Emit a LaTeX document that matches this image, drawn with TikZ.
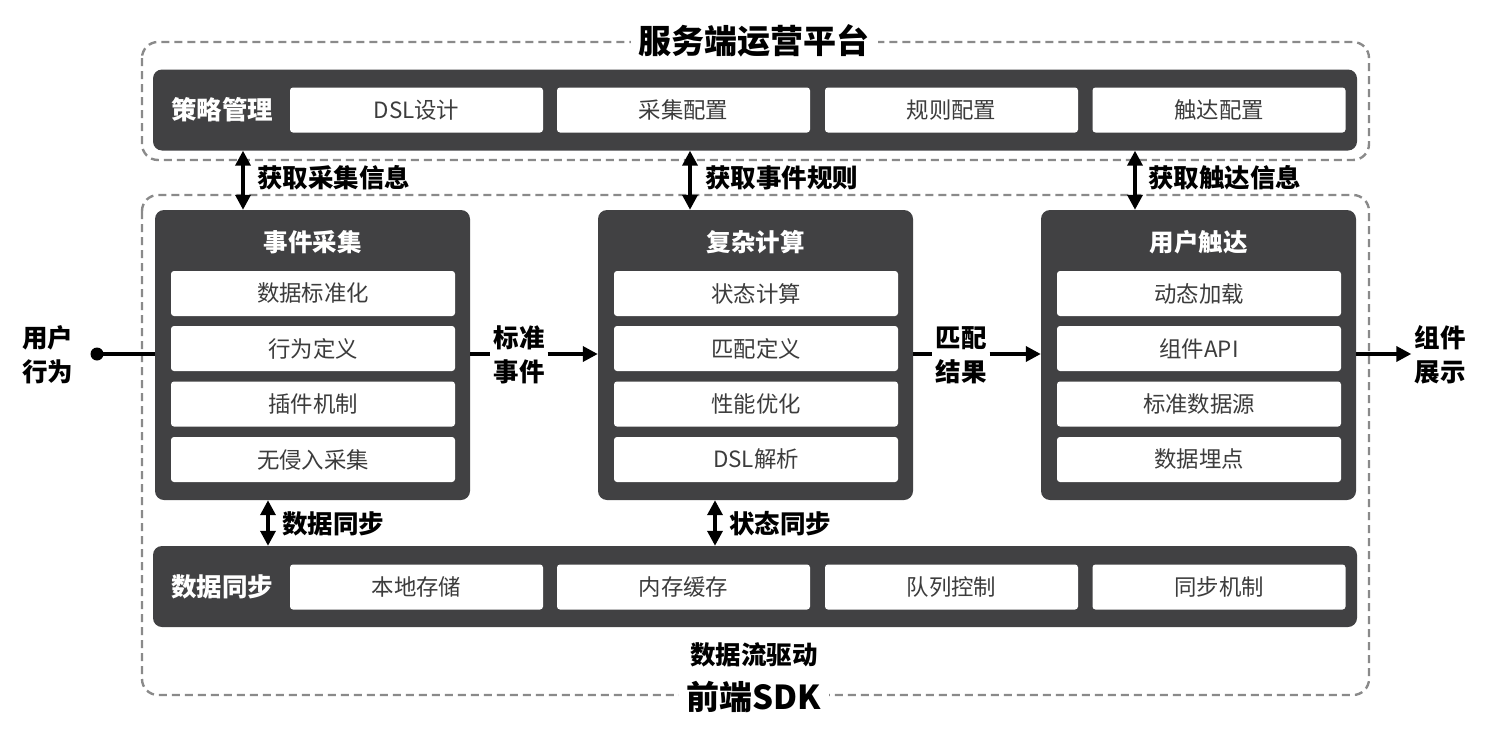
\documentclass[tikz,border=0pt]{standalone}
\usepackage{fontspec}
\setmainfont{Noto Sans CJK SC}
\usetikzlibrary{arrows.meta,calc}
\definecolor{darkbar}{HTML}{414143}
\definecolor{dashgray}{HTML}{8A8A8A}
\definecolor{itemtext}{HTML}{3C3C3C}
\begin{document}
\begin{tikzpicture}[x=1pt,y=-1pt,
  dashbox/.style={draw=dashgray,line width=2.4pt,dash pattern=on 8pt off 5pt,rounded corners=16pt},
  bigtitle/.style={fill=white,inner xsep=8pt,inner ysep=2pt,font=\fontsize{33}{38}\selectfont\bfseries,text=black},
  panel/.style={fill=darkbar,rounded corners=9pt,minimum width=315pt,minimum height=290pt,inner sep=0pt},
  bar/.style={fill=darkbar,rounded corners=9pt,minimum width=1204pt,minimum height=81pt,inner sep=0pt},
  item/.style={fill=white,rounded corners=3pt,minimum width=284pt,minimum height=45pt,inner sep=0pt,text=itemtext,font=\fontsize{22.4}{26}\selectfont},
  baritem/.style={fill=white,rounded corners=3pt,minimum width=253pt,minimum height=45pt,inner sep=0pt,text=itemtext,font=\fontsize{22.4}{26}\selectfont},
  ptitle/.style={text=white,font=\fontsize{24.5}{28}\selectfont\bfseries},
  bartitle/.style={text=white,font=\fontsize{25.5}{29}\selectfont\bfseries},
  lbl/.style={text=black,font=\fontsize{25.5}{29}\selectfont\bfseries,inner sep=0pt},
  mlbl/.style={text=black,font=\fontsize{25.5}{34}\selectfont\bfseries,align=center,inner sep=3pt},
  conn/.style={line width=3.5pt,-{Triangle[length=15pt,width=15pt]}},
  plainline/.style={line width=3.5pt},
  bi/.style={line width=3.5pt,{Triangle[length=15pt,width=15pt]}-{Triangle[length=15pt,width=15pt]}}
]
\useasboundingbox (0,0) rectangle (1492,736);

% dashed containers
\draw[dashbox] (142,42) rectangle (1369,160);
\draw[dashbox] (142,195) rectangle (1369,695);
\node[bigtitle] (ttop) at (754,41) {服务端运营平台};
\node[bigtitle] (tbot) at (754,697) {前端SDK};

% top bar
\node[bar] (top) at (755,110) {};
\node[bartitle] (toplbl) at (222,110) {策略管理};
\node[baritem] (t1) at (416.5,110) {DSL设计};
\node[baritem] (t2) at (683.5,110) {采集配置};
\node[baritem] (t3) at (951.5,110) {规则配置};
\node[baritem] (t4) at (1219,110) {触达配置};

% bottom bar
\node[bar] (bot) at (755,586.5) {};
\node[bartitle] (botlbl) at (222,587) {数据同步};
\node[baritem] (b1) at (416.5,587) {本地存储};
\node[baritem] (b2) at (683.5,587) {内存缓存};
\node[baritem] (b3) at (951.5,587) {队列控制};
\node[baritem] (b4) at (1219,587) {同步机制};

% panels
\node[panel] (p1) at (312.5,355) {};
\node[panel] (p2) at (755.5,355) {};
\node[panel] (p3) at (1198.5,355) {};

\node[ptitle] (p1t) at (312.5,242) {事件采集};
\node[item] (p1a) at (313,293.5) {数据标准化};
\node[item] (p1b) at (313,348.5) {行为定义};
\node[item] (p1c) at (313,404) {插件机制};
\node[item] (p1d) at (313,459.5) {无侵入采集};

\node[ptitle] (p2t) at (755.5,242) {复杂计算};
\node[item] (p2a) at (756,293.5) {状态计算};
\node[item] (p2b) at (756,348.5) {匹配定义};
\node[item] (p2c) at (756,404) {性能优化};
\node[item] (p2d) at (756,459.5) {DSL解析};

\node[ptitle] (p3t) at (1198.5,242) {用户触达};
\node[item] (p3a) at (1199,293.5) {动态加载};
\node[item] (p3b) at (1199,348.5) {组件API};
\node[item] (p3c) at (1199,404) {标准数据源};
\node[item] (p3d) at (1199,459.5) {数据埋点};

% vertical bidirectional arrows
\coordinate (xa) at (243,0);
\coordinate (xb) at (690,0);
\coordinate (xc) at (1135,0);
\coordinate (xd) at (268,0);
\coordinate (xe) at (715,0);
\draw[bi] (top.south -| xa) -- (p1.north -| xa);
\draw[bi] (top.south -| xb) -- (p2.north -| xb);
\draw[bi] (top.south -| xc) -- (p3.north -| xc);
\draw[bi] (p1.south -| xd) -- (bot.north -| xd);
\draw[bi] (p2.south -| xe) -- (bot.north -| xe);
\node[lbl,anchor=west] (la) at (257,178) {获取采集信息};
\node[lbl,anchor=west] (lb) at (705,178) {获取事件规则};
\node[lbl,anchor=west] (lc) at (1148,178) {获取触达信息};
\node[lbl,anchor=west] (ld) at (282,524) {数据同步};
\node[lbl,anchor=west] (le) at (729,524) {状态同步};

\node[lbl] (flow) at (754,655) {数据流驱动};

% horizontal flow
\node[circle,fill=black,inner sep=0pt,minimum size=13pt] (dot) at (97,354) {};
\node[mlbl] (user) at (48,355) {用户\\行为};
\draw[plainline] (dot.center) -- (p1.west |- dot);
\node[mlbl] (std) at (519,355) {标准\\事件};
\draw[plainline] (p1.east |- dot) -- (std.west |- dot);
\draw[conn] (std.east |- dot) -- (p2.west |- dot);
\node[mlbl] (match) at (961,355) {匹配\\结果};
\draw[plainline] (p2.east |- dot) -- (match.west |- dot);
\draw[conn] (match.east |- dot) -- (p3.west |- dot);
\node[mlbl] (show) at (1440,355) {组件\\展示};
\draw[conn] (p3.east |- dot) -- (show.west |- dot);
\end{tikzpicture}
\end{document}
